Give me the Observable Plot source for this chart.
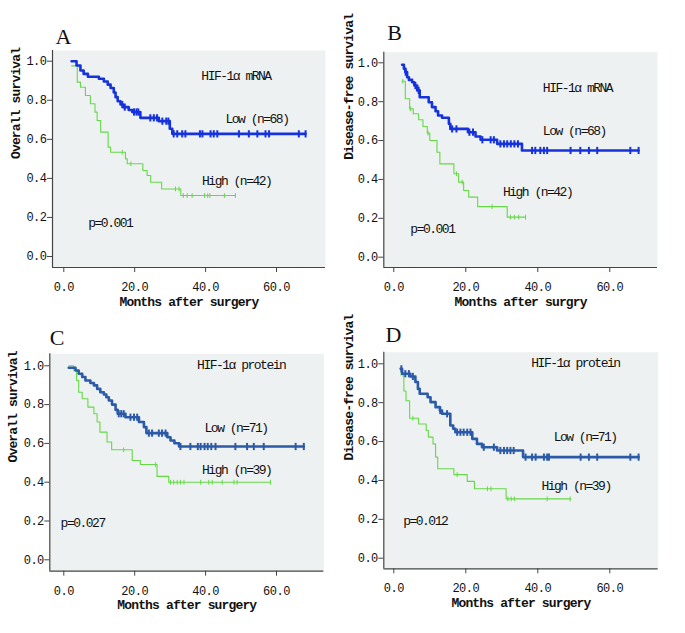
<!DOCTYPE html>
<html><head><meta charset="utf-8">
<script src="https://cdn.jsdelivr.net/npm/d3@7"></script>
<script src="https://cdn.jsdelivr.net/npm/@observablehq/plot@0.6"></script>
<style>
body{margin:0;background:#fff;}
#fig{position:relative;width:685px;height:633px;background:#fff;overflow:hidden;}
.panel{position:absolute;}
.panel svg{overflow:visible;}
</style></head><body><div id="fig"></div>
<script>
// ---------- Data ----------
const xTicks = [0, 20, 40, 60];
const yTicks = [0, 0.2, 0.4, 0.6, 0.8, 1.0];

// Panel A: overall survival, HIF-1α mRNA
const aLowT = [2.2, 3.6, 4.7, 5.6, 6.8, 9.9, 11.3, 12.4, 13.2, 14.1, 14.6, 15.2, 16.0, 16.7, 18.3, 19.3, 21.6, 26.8, 29.9, 30.6];
const aLowS = [1.0, 0.978, 0.952, 0.935, 0.92, 0.91, 0.896, 0.88, 0.863, 0.84, 0.816, 0.795, 0.778, 0.765, 0.75, 0.74, 0.71, 0.693, 0.654, 0.628];
const aLowC = [16.5, 17.2, 19.8, 20.5, 21.0, 24.4, 25.4, 26.3, 27.8, 28.9, 29.5, 31.0, 32.0, 33.4, 34.3, 38.4, 39.1, 41.4, 42.3, 43.3, 49.4, 52.2, 54.6, 56.9, 57.9, 66.3, 68.2];
const aHighT = [2.2, 3.8, 4.7, 6.1, 7.5, 8.8, 9.4, 10.4, 12.5, 13.2, 17.4, 17.9, 22.3, 23.5, 24.5, 27.6, 33.0];
const aHighS = [0.976, 0.893, 0.867, 0.824, 0.782, 0.739, 0.696, 0.637, 0.56, 0.534, 0.50, 0.475, 0.44, 0.415, 0.38, 0.346, 0.312];
const aHighC = [16.5, 18.9, 31.5, 32.5, 33.7, 34.8, 36.2, 39.7, 40.6, 41.2, 45.3, 48.4];

// Panel B: disease-free survival, HIF-1α mRNA
const bLowT = [2.3, 2.8, 3.2, 3.7, 4.2, 5.1, 5.7, 6.5, 7.2, 9.7, 10.6, 11.6, 12.3, 13.4, 15.3, 15.7, 20.6, 22.7, 24.1, 28.7, 35.6];
const bLowS = [0.99, 0.97, 0.952, 0.926, 0.912, 0.90, 0.883, 0.858, 0.823, 0.797, 0.772, 0.751, 0.729, 0.717, 0.686, 0.66, 0.643, 0.621, 0.604, 0.583, 0.549];
const bLowC = [3.3, 6.0, 6.9, 16.2, 17.4, 21.0, 22.0, 24.6, 26.9, 27.8, 29.6, 30.6, 31.5, 32.5, 33.5, 34.5, 38.4, 39.3, 40.7, 41.7, 42.6, 49.1, 51.8, 54.2, 56.5, 65.7, 68.0];
const bHighT = [2.3, 3.2, 4.4, 5.4, 6.9, 8.1, 9.3, 10.0, 12.0, 12.8, 16.7, 18.0, 19.4, 20.8, 23.3, 31.5];
const bHighS = [0.905, 0.815, 0.763, 0.738, 0.707, 0.672, 0.638, 0.60, 0.54, 0.48, 0.429, 0.386, 0.343, 0.309, 0.26, 0.206];
const bHighC = [2.5, 4.6, 9.5, 17.4, 19.0, 27.3, 32.4, 33.5, 34.7, 36.6];

// Panel C: overall survival, HIF-1α protein
const cLowT = [1.4, 3.3, 4.2, 5.2, 6.1, 7.5, 8.5, 9.4, 10.3, 11.3, 12.0, 12.7, 13.6, 14.6, 15.2, 17.4, 21.2, 22.6, 23.3, 29.2, 30.1, 31.2, 32.5];
const cLowS = [0.99, 0.976, 0.959, 0.942, 0.924, 0.911, 0.899, 0.881, 0.864, 0.852, 0.838, 0.821, 0.80, 0.773, 0.753, 0.735, 0.71, 0.684, 0.653, 0.632, 0.615, 0.601, 0.584];
const cLowC = [15.5, 16.2, 16.9, 18.8, 19.8, 20.7, 24.0, 24.9, 26.8, 27.7, 28.7, 32.9, 35.7, 37.8, 38.6, 39.7, 40.6, 41.6, 42.8, 48.4, 51.7, 53.6, 56.4, 65.4, 67.7];
const cHighT = [1.4, 2.8, 3.6, 4.2, 5.2, 6.8, 8.5, 9.4, 10.2, 12.2, 13.5, 19.3, 21.6, 26.3, 29.6];
const cHighS = [1.0, 0.976, 0.924, 0.864, 0.83, 0.787, 0.753, 0.71, 0.658, 0.607, 0.567, 0.512, 0.491, 0.43, 0.40];
const cHighC = [16.9, 25.9, 30.1, 31.0, 32.0, 32.9, 33.9, 38.6, 40.9, 41.9, 44.7, 48.0, 48.9, 58.3];

// Panel D: disease-free survival, HIF-1α protein
const dLowT = [1.9, 2.3, 4.6, 6.0, 6.7, 7.2, 9.4, 10.2, 11.6, 12.8, 13.4, 15.7, 16.5, 17.1, 21.8, 23.1, 24.5, 28.7, 35.9];
const dLowS = [0.974, 0.949, 0.935, 0.906, 0.871, 0.846, 0.828, 0.803, 0.777, 0.76, 0.743, 0.683, 0.666, 0.648, 0.614, 0.588, 0.571, 0.554, 0.52];
const dLowC = [2.1, 3.2, 4.2, 5.3, 12.9, 14.8, 17.6, 18.5, 19.4, 20.4, 21.3, 25.0, 27.8, 29.6, 30.6, 31.5, 32.4, 33.3, 36.6, 38.4, 39.4, 41.7, 42.6, 43.1, 51.9, 54.2, 56.5, 65.7, 68.0];
const dHighT = [1.9, 2.8, 3.4, 4.4, 6.9, 9.0, 9.6, 10.9, 11.6, 12.2, 16.7, 20.4, 22.4, 31.2];
const dHighS = [0.944, 0.86, 0.81, 0.72, 0.69, 0.657, 0.623, 0.588, 0.52, 0.46, 0.43, 0.395, 0.357, 0.305];
const dHighC = [2.6, 5.3, 17.6, 26.0, 27.0, 31.7, 32.6, 33.5, 42.6, 49.0];

// Labels
const letters = ["A", "B", "C", "D"];
const yLabels = ["Overall survival", "Disease-free survival", "Overall survival", "Disease-free survival"];
const xLabels = ["Months after surgery", "Months after surgry", "Months after surgery", "Months after surgery"];
const geneLabels = ["HIF-1α mRNA", "HIF-1α mRNA", "HIF-1α protein", "HIF-1α protein"];
const lowLabels = ["Low (n=68)", "Low (n=68)", "Low (n=71)", "Low (n=71)"];
const highLabels = ["High (n=42)", "High (n=42)", "High (n=39)", "High (n=39)"];
const pLabels = ["p=0.001", "p=0.001", "p=0.027", "p=0.012"];

// ---------- Layout / style ----------
const BG = "#eef1f1";
const GREEN = "#66d848";
const BLUES = ["#1532dc", "#1532dc", "#2a5aa8", "#2a5aa8"];
const MONO = "Liberation Mono, DejaVu Sans Mono, monospace";

const layouts = [
  {left: 0,   top: 0,   w: 340, h: 310, L: 52,    R: 325,   T: 50,    B: 267,   x0: 63.3,  x60: 276,   y0: 256,   y1: 60.7,
   ann: {gene: [38.8, 0.927], low: [45.6, 0.707], high: [39.0, 0.386], p: [6.9, 0.171]}, letter: [3, -14], ylab: -37},
  {left: 340, top: 0,   w: 345, h: 310, L: 383.3, R: 657,   T: 51.7,  B: 267,   x0: 393.3, x60: 609.3, y0: 256.7, y1: 62.3,
   ann: {gene: [41.4, 0.871], low: [41.4, 0.652], high: [30.3, 0.338], p: [4.6, 0.146]}, letter: [3.4, -19], ylab: -35},
  {left: 0,   top: 310, w: 340, h: 323, L: 49.3,  R: 323.3, T: 353.3, B: 570.7, x0: 63.3,  x60: 276,   y0: 559.3, y1: 365.3,
   ann: {gene: [37.6, 1.007], low: [39.7, 0.68], high: [39.0, 0.464], p: [-0.9, 0.189]}, letter: [0, -16], ylab: -36.6},
  {left: 340, top: 310, w: 345, h: 323, L: 383.3, R: 657.7, T: 351.7, B: 568.3, x0: 393.3, x60: 609.3, y0: 557.7, y1: 363.3,
   ann: {gene: [38.2, 1.005], low: [44.4, 0.622], high: [41.0, 0.37], p: [2.6, 0.194]}, letter: [1.7, -17.7], ylab: -35}
];

const curves = [
  {low: [aLowT, aLowS, aLowC], high: [aHighT, aHighS, aHighC]},
  {low: [bLowT, bLowS, bLowC], high: [bHighT, bHighS, bHighC]},
  {low: [cLowT, cLowS, cLowC], high: [cHighT, cHighS, cHighC]},
  {low: [dLowT, dLowS, dLowC], high: [dHighT, dHighS, dHighC]}
];

function stepAt(T, S, t) {
  let v = S[0];
  for (let i = 0; i < T.length; i++) if (T[i] <= t) v = S[i];
  return v;
}
function lineData([T, S, C]) {
  const pts = T.map((t, i) => ({t, s: S[i]}));
  pts.push({t: Math.max(T[T.length - 1], ...C), s: S[S.length - 1]});
  return pts;
}
function censorData([T, S, C]) {
  return C.map(t => ({t, s: stepAt(T, S, t)}));
}
const tickSymbol = {
  draw(context, size) {
    const h = Math.sqrt(size / Math.PI);
    context.moveTo(0, -h);
    context.lineTo(0, h);
  }
};
const fmt = d3.format(".1f");
const fig = document.getElementById("fig");

layouts.forEach((lay, k) => {
  const ppm = (lay.x60 - lay.x0) / 60;
  const ppu = lay.y0 - lay.y1;
  const xDom = [(lay.L - lay.x0) / ppm, (lay.R - lay.x0) / ppm];
  const yDom = [(lay.y0 - lay.B) / ppu, (lay.y0 - lay.T) / ppu];
  const blue = BLUES[k];
  const c = curves[k];
  const annText = (txt, pos) => Plot.text([txt], {x: () => pos[0], y: () => pos[1], text: d => d,
    textAnchor: "start", lineAnchor: "middle", fontSize: 13, fill: "#111", fontFamily: MONO});

  const svg = Plot.plot({
    width: lay.w, height: lay.h,
    marginLeft: lay.L - lay.left, marginRight: lay.left + lay.w - lay.R,
    marginTop: lay.T - lay.top, marginBottom: lay.top + lay.h - lay.B,
    x: {domain: xDom},
    y: {domain: yDom},
    style: {fontFamily: MONO, fontSize: "12px", color: "#222", background: "transparent"},
    marks: [
      Plot.frame({fill: BG, stroke: "none"}),
      Plot.ruleX([xDom[0]], {stroke: "#444", strokeWidth: 1.2}),
      Plot.ruleY([yDom[0]], {stroke: "#444", strokeWidth: 1.2}),
      Plot.axisX({ticks: xTicks, tickFormat: fmt, tickSize: 5, tickPadding: 10, label: null, stroke: "#444", fill: "#111"}),
      Plot.axisY({ticks: yTicks, tickFormat: fmt, tickSize: 5, tickPadding: 1, label: null, stroke: "#444", fill: "#111"}),
      Plot.line(lineData(c.high), {x: "t", y: "s", curve: "step-after", stroke: GREEN, strokeWidth: 1.1}),
      Plot.dot(censorData(c.high), {x: "t", y: "s", symbol: tickSymbol, r: 2.4, stroke: GREEN, strokeWidth: 1, fill: "none"}),
      Plot.line(lineData(c.low), {x: "t", y: "s", curve: "step-after", stroke: blue, strokeWidth: 2.6}),
      Plot.dot(censorData(c.low), {x: "t", y: "s", symbol: tickSymbol, r: 3.6, stroke: blue, strokeWidth: 2, fill: "none"}),
      annText(geneLabels[k], lay.ann.gene),
      annText(lowLabels[k], lay.ann.low),
      annText(highLabels[k], lay.ann.high),
      annText(pLabels[k], lay.ann.p),
      Plot.text([xLabels[k]], {frameAnchor: "bottom", lineAnchor: "middle", dy: 34, text: d => d, fontWeight: "bold", fontSize: 13, fill: "#111"}),
      Plot.text([yLabels[k]], {frameAnchor: "left", lineAnchor: "middle", dx: lay.ylab, rotate: -90, text: d => d, fontWeight: "bold", fontSize: 13, fill: "#111"}),
      Plot.text([letters[k]], {frameAnchor: "top-left", lineAnchor: "middle", dx: lay.letter[0], dy: lay.letter[1], text: d => d,
        textAnchor: "start", fontSize: 22, fontFamily: "Liberation Serif, serif", fill: "#111"})
    ]
  });
  // letter spacing to mimic the half-width monospaced font of the original
  svg.querySelectorAll("text").forEach(t => {
    const s = t.textContent;
    if (letters.includes(s)) t.style.letterSpacing = "0px";
    else if (s === xLabels[k] || s === yLabels[k]) t.style.letterSpacing = "-0.85px";
    else if ([geneLabels[k], lowLabels[k], highLabels[k], pLabels[k]].includes(s)) t.style.letterSpacing = "-1.5px";
    else t.style.letterSpacing = "-0.5px";
  });
  const div = document.createElement("div");
  div.className = "panel";
  div.style.left = lay.left + "px";
  div.style.top = lay.top + "px";
  div.appendChild(svg);
  fig.appendChild(div);
});
</script>
</body></html>
